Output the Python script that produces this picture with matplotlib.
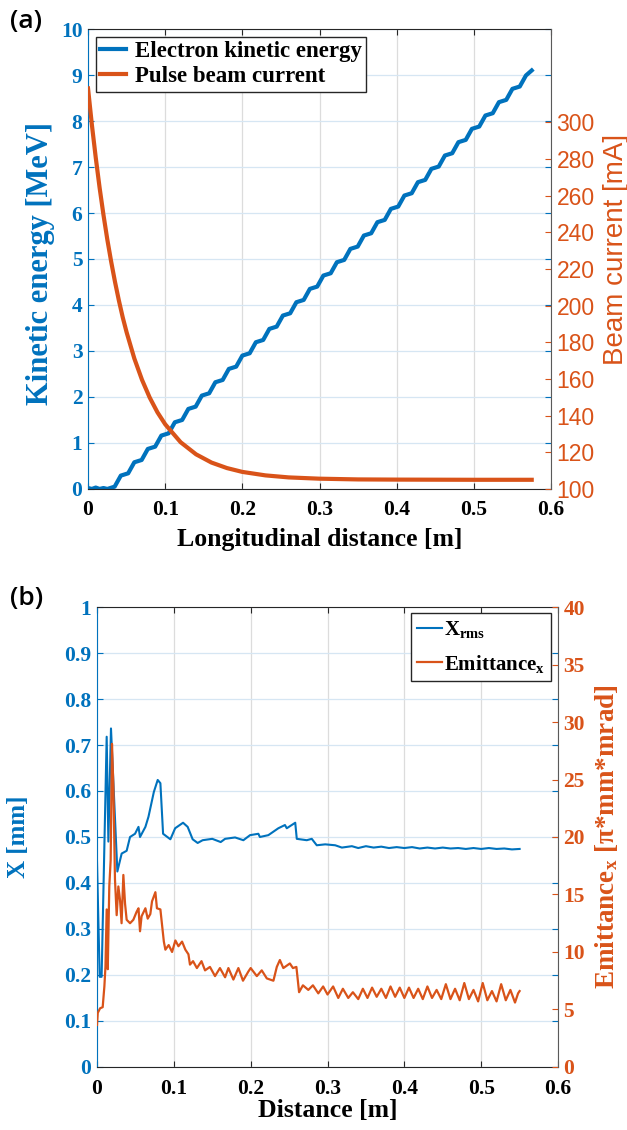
# Linac beam dynamics: energy / current along the structure (a) and beam size / emittance (b)
import matplotlib.pyplot as plt

# ---- panel (a) data ----
dist_ke = [0.000, 0.005, 0.010, 0.015, 0.020,
           0.0250, 0.0345, 0.0425, 0.0520, 0.0600, 0.0695, 0.0775, 0.0870,
           0.0950, 0.1045, 0.1125, 0.1220, 0.1300, 0.1395, 0.1475, 0.1570,
           0.1650, 0.1745, 0.1825, 0.1920, 0.2000, 0.2095, 0.2175, 0.2270,
           0.2350, 0.2445, 0.2525, 0.2620, 0.2700, 0.2795, 0.2875, 0.2970,
           0.3050, 0.3145, 0.3225, 0.3320, 0.3400, 0.3495, 0.3575, 0.3670,
           0.3750, 0.3845, 0.3925, 0.4020, 0.4100, 0.4195, 0.4275, 0.4370,
           0.4450, 0.4545, 0.4625, 0.4720, 0.4800, 0.4895, 0.4975, 0.5070,
           0.5150, 0.5245, 0.5325, 0.5420, 0.5500, 0.5595, 0.5675, 0.5750]
kin_energy = [0.02, 0.00, 0.03, 0.00, 0.02,
              0.00, 0.05, 0.29, 0.34, 0.58, 0.63, 0.87, 0.92,
              1.16, 1.21, 1.45, 1.50, 1.74, 1.79, 2.03, 2.08,
              2.32, 2.37, 2.61, 2.66, 2.90, 2.95, 3.19, 3.24,
              3.48, 3.53, 3.77, 3.82, 4.06, 4.11, 4.35, 4.40,
              4.64, 4.69, 4.93, 4.98, 5.22, 5.27, 5.51, 5.56,
              5.80, 5.85, 6.09, 6.14, 6.38, 6.43, 6.67, 6.72,
              6.96, 7.01, 7.25, 7.30, 7.54, 7.59, 7.83, 7.88,
              8.12, 8.17, 8.41, 8.46, 8.70, 8.75, 8.99, 9.10]

dist_cur = [0.000, 0.005, 0.010, 0.015, 0.020, 0.025, 0.030, 0.035, 0.040,
            0.045, 0.050, 0.060, 0.070, 0.080, 0.090, 0.100, 0.120, 0.140,
            0.160, 0.180, 0.200, 0.230, 0.260, 0.300, 0.350, 0.400, 0.500, 0.575]
beam_current = [318.6, 298.7, 280.8, 264.4, 249.6, 236.1, 224.0, 212.9, 202.8,
                193.6, 185.5, 171.2, 159.5, 149.8, 141.8, 135.3, 125.5, 118.9,
                114.4, 111.4, 109.3, 107.4, 106.3, 105.6, 105.2, 105.1, 105.0, 105.0]

# ---- panel (b) data ----
dist_x = [0.000, 0.0035, 0.0060, 0.0126, 0.0148, 0.0182, 0.0265, 0.0321, 0.0386,
          0.043, 0.0495, 0.054, 0.056, 0.063, 0.067, 0.074, 0.079, 0.0825, 0.086,
          0.0955, 0.1017, 0.112, 0.118, 0.1245, 0.131, 0.1375, 0.150, 0.161,
          0.1667, 0.1797, 0.1905, 0.1992, 0.210, 0.212, 0.223, 0.236, 0.2446,
          0.247, 0.258, 0.260, 0.273, 0.2795, 0.286, 0.297, 0.310, 0.3187,
          0.3317, 0.340, 0.350, 0.360, 0.370, 0.380, 0.390, 0.400, 0.410, 0.420,
          0.430, 0.440, 0.450, 0.460, 0.470, 0.480, 0.490, 0.500, 0.510, 0.520,
          0.530, 0.540, 0.550]
x_rms = [0.446, 0.196, 0.196, 0.718, 0.490, 0.736, 0.425, 0.464, 0.470,
         0.500, 0.507, 0.522, 0.500, 0.522, 0.544, 0.598, 0.624, 0.617, 0.507,
         0.495, 0.519, 0.531, 0.522, 0.495, 0.487, 0.493, 0.496, 0.489,
         0.496, 0.499, 0.493, 0.504, 0.507, 0.500, 0.504, 0.519, 0.526,
         0.519, 0.531, 0.496, 0.493, 0.496, 0.482, 0.484, 0.482, 0.477,
         0.480, 0.476, 0.480, 0.477, 0.479, 0.476, 0.478, 0.476, 0.478, 0.475,
         0.477, 0.475, 0.477, 0.475, 0.476, 0.474, 0.476, 0.474, 0.476, 0.474,
         0.475, 0.473, 0.474]

dist_emit = [0.000, 0.001, 0.004, 0.0074, 0.0096, 0.011, 0.0126, 0.014, 0.016,
             0.0178, 0.0195, 0.0213, 0.0234, 0.0256, 0.0278, 0.030, 0.032, 0.0343,
             0.0365, 0.0386, 0.043, 0.0473, 0.0516, 0.054, 0.056, 0.058, 0.063,
             0.066, 0.0694, 0.0716, 0.076, 0.078, 0.0825, 0.087, 0.089, 0.0933,
             0.0977, 0.102, 0.106, 0.1107, 0.115, 0.119, 0.121, 0.125, 0.130,
             0.136, 0.1406, 0.147, 0.1536, 0.160, 0.1667, 0.171, 0.1775, 0.184,
             0.190, 0.197, 0.200, 0.208, 0.2144, 0.221, 0.2296, 0.234, 0.238,
             0.2425, 0.251, 0.255, 0.2595, 0.263, 0.268, 0.275, 0.281, 0.288,
             0.2943, 0.300, 0.3073, 0.314, 0.320, 0.327, 0.333, 0.340,
             0.346, 0.352, 0.358, 0.364, 0.370, 0.376, 0.382, 0.388, 0.394,
             0.400, 0.406, 0.412, 0.418, 0.424, 0.430, 0.436, 0.442, 0.448,
             0.454, 0.460, 0.466, 0.472, 0.478, 0.484, 0.490, 0.496, 0.502,
             0.508, 0.514, 0.520, 0.526, 0.532, 0.538, 0.544, 0.548, 0.550]
emittance = [3.65, 4.7, 5.1, 5.2, 7.0, 8.7, 13.7, 8.5, 15.7,
             18.0, 28.1, 24.4, 16.3, 13.2, 15.7, 14.5, 12.5, 16.7,
             14.2, 12.8, 12.5, 12.8, 13.5, 13.8, 11.8, 13.1, 13.8,
             12.9, 13.3, 14.4, 15.2, 13.8, 13.7, 10.9, 10.2, 10.6,
             10.0, 11.0, 10.5, 10.9, 10.2, 9.8, 8.9, 9.2, 8.6,
             9.2, 8.4, 8.7, 7.9, 8.6, 7.8, 8.6, 7.6, 8.6,
             7.5, 8.3, 8.6, 7.9, 8.4, 7.7, 7.5, 8.7, 9.3,
             8.6, 9.0, 8.6, 8.7, 6.5, 7.1, 6.7, 7.1, 6.4,
             7.0, 6.3, 7.0, 6.0, 6.8, 6.0, 6.5, 5.9,
             6.8, 6.0, 6.9, 6.1, 6.8, 6.0, 7.0, 6.1, 6.9,
             6.0, 6.9, 6.0, 6.8, 5.9, 7.0, 6.0, 6.7, 5.9,
             7.2, 5.9, 6.8, 5.8, 7.3, 5.9, 6.7, 5.7, 7.3,
             5.8, 6.6, 5.7, 7.2, 5.8, 6.7, 5.6, 6.4, 6.6]

BLUE = '#0072BD'
ORANGE = '#D95319'
SPINE = '#262626'

plt.rcParams['font.family'] = 'Liberation Serif'
plt.rcParams['font.weight'] = 'bold'
plt.rcParams['axes.labelweight'] = 'bold'
plt.rcParams['mathtext.fontset'] = 'custom'
plt.rcParams['mathtext.rm'] = 'Liberation Serif:bold'
plt.rcParams['mathtext.bf'] = 'Liberation Serif:bold'
plt.rcParams['mathtext.it'] = 'Liberation Serif:bold:italic'


def style(ax, axr, xpad):
    ax.grid(True, axis='x', color='#dcdcdc', lw=0.9)
    ax.grid(True, axis='y', color='#d6e6f3', lw=0.9)
    ax.set_axisbelow(True)
    ax.tick_params(axis='x', direction='in', top=True, length=4, color=SPINE,
                   labelsize=15.5, labelcolor='black', pad=xpad)
    ax.tick_params(axis='y', direction='in', right=True, length=4, color=BLUE,
                   labelsize=15.5, labelcolor=BLUE, pad=4)
    axr.tick_params(axis='y', direction='in', length=4, color=ORANGE,
                    labelcolor=ORANGE, pad=4)
    ax.spines['left'].set_color(BLUE)
    ax.spines['right'].set_visible(False)
    for s in ('top', 'bottom'):
        ax.spines[s].set_color(SPINE)
    axr.spines['left'].set_visible(False)
    axr.spines['top'].set_visible(False)
    axr.spines['bottom'].set_visible(False)
    axr.spines['right'].set_color('#5a5a5a')


fig = plt.figure(figsize=(6.27, 11.3), dpi=100)

# ---------------- (a) ----------------
ax1 = fig.add_axes([0.1404, 0.5673, 0.7384, 0.407])
ax1r = ax1.twinx()
l1, = ax1.plot(dist_ke, kin_energy, color=BLUE, lw=3.0, solid_joinstyle='round')
l2, = ax1r.plot(dist_cur, beam_current, color=ORANGE, lw=3.0)
ax1.set_xlim(0, 0.6)
ax1.set_ylim(0, 10)
ax1.set_xticks([0, 0.1, 0.2, 0.3, 0.4, 0.5, 0.6])
ax1.set_xticklabels(['0', '0.1', '0.2', '0.3', '0.4', '0.5', '0.6'])
ax1.set_yticks(range(0, 11))
ax1r.set_ylim(100, 351)
ax1r.set_yticks(range(100, 301, 20))
style(ax1, ax1r, 8)
for t in ax1r.get_yticklabels():
    t.set_family('Liberation Sans')
    t.set_weight('normal')
    t.set_fontsize(16.5)
ax1.set_xlabel('Longitudinal distance [m]', fontsize=18.5)
ax1.xaxis.set_label_coords(0.5, -0.085)
ax1.set_ylabel('Kinetic energy [MeV]', fontsize=22, color=BLUE)
ax1.yaxis.set_label_coords(-0.072, 0.49)
ax1r.set_ylabel('Beam current [mA]', fontsize=20, color=ORANGE,
                family='Liberation Sans', weight='normal')
ax1r.yaxis.set_label_coords(1.112, 0.52)
leg = ax1r.legend([l1, l2], ['Electron kinetic energy', 'Pulse beam current'],
                  loc='upper left', fontsize=16.5, handlelength=1.1,
                  handletextpad=0.4, borderpad=0.2, labelspacing=0.15,
                  borderaxespad=0, fancybox=False, edgecolor=SPINE,
                  framealpha=1, bbox_to_anchor=(0.017, 0.983))
leg.get_frame().set_linewidth(1.0)
fig.text(0.042, 0.981, '(a)', fontsize=19, family='Open Sans', weight='semibold',
         ha='center', va='center')

# ---------------- (b) ----------------
ax2 = fig.add_axes([0.1547, 0.0558, 0.7353, 0.407])
ax2r = ax2.twinx()
m1, = ax2.plot(dist_x, x_rms, color=BLUE, lw=1.5)
m2, = ax2r.plot(dist_emit, emittance, color=ORANGE, lw=1.6)
ax2.set_xlim(0, 0.6)
ax2.set_ylim(0, 1)
ax2.set_xticks([0, 0.1, 0.2, 0.3, 0.4, 0.5, 0.6])
ax2.set_xticklabels(['0', '0.1', '0.2', '0.3', '0.4', '0.5', '0.6'])
ax2.set_yticks([0, 0.1, 0.2, 0.3, 0.4, 0.5, 0.6, 0.7, 0.8, 0.9, 1])
ax2.set_yticklabels(['0', '0.1', '0.2', '0.3', '0.4', '0.5', '0.6', '0.7',
                     '0.8', '0.9', '1'])
ax2r.set_ylim(0, 40)
ax2r.set_yticks(range(0, 41, 5))
style(ax2, ax2r, 9)
ax2r.tick_params(axis='y', labelsize=15.5)
ax2.set_xlabel('Distance [m]', fontsize=18.5)
ax2.xaxis.set_label_coords(0.5, -0.07)
ax2.set_ylabel('X [mm]', fontsize=18, color=BLUE)
ax2.yaxis.set_label_coords(-0.145, 0.5)
ax2r.set_ylabel(r'Emittance$_\mathrm{x}$ [π*mm*mrad]', fontsize=19.5, color=ORANGE)
ax2r.yaxis.set_label_coords(1.076, 0.5)
leg2 = ax2r.legend([m1, m2], [r'X$_\mathrm{rms}$', r'Emittance$_\mathrm{x}$'],
                   loc='upper right', fontsize=15, handlelength=1.2,
                   handletextpad=0.1, borderpad=0.3, labelspacing=0.6,
                   borderaxespad=0, fancybox=False, edgecolor=SPINE,
                   framealpha=1, bbox_to_anchor=(0.985, 0.987))
leg2.get_frame().set_linewidth(1.0)
fig.text(0.043, 0.470, '(b)', fontsize=19, family='Open Sans', weight='semibold',
         ha='center', va='center')

fig.savefig('out.png', dpi=100)
